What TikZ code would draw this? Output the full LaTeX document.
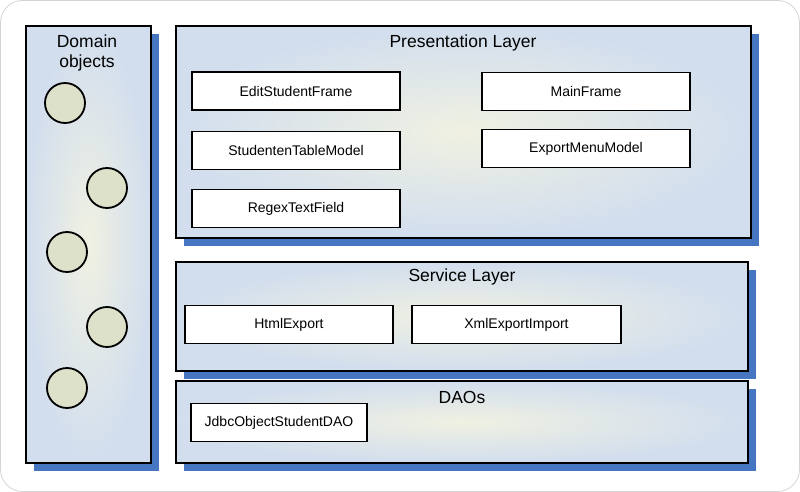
\documentclass[tikz,border=0pt]{standalone}
\usepackage{fontspec}
\setmainfont{Liberation Sans}
\usetikzlibrary{shadows}
\definecolor{shadowblue}{HTML}{4676C2}
\definecolor{panelout}{HTML}{D2DEEE}
\definecolor{panelin}{HTML}{F0F1E2}
\definecolor{objfill}{HTML}{DEE1CA}
\definecolor{frameline}{HTML}{D4D4D4}
\tikzset{
  panel/.style={draw=black, line width=1.8pt, inner color=panelin, outer color=panelout,
    anchor=north west, inner sep=0pt,
    drop shadow={shadow xshift=8pt, shadow yshift=-8pt, fill=shadowblue, opacity=1}},
  paneltitle/.style={font=\fontsize{17.5}{20}\selectfont, align=center, inner sep=0pt},
  comp/.style={draw=black, line width=1.8pt, fill=white, minimum width=208pt,
    minimum height=38pt, inner sep=0pt, font=\fontsize{14}{16}\selectfont},
  obj/.style={circle, draw=black, line width=1.8pt, fill=objfill, minimum size=40pt, inner sep=0pt}
}
\begin{document}
\begin{tikzpicture}[x=1pt,y=-1pt]
\useasboundingbox (0,0) rectangle (800,492);
\draw[frameline, line width=0.8pt, rounded corners=22pt] (0.5,0.5) rectangle (799.5,491.5);

% panels
\node[panel, minimum width=125pt, minimum height=437pt] (domain) at (25,25) {};
\node[panel, minimum width=575pt, minimum height=212pt] (pres) at (175,25) {};
\node[panel, minimum width=572pt, minimum height=109pt] (serv) at (175,261) {};
\node[panel, minimum width=572pt, minimum height=82pt] (dao) at (175,380) {};

% titles
\node[paneltitle] (domaint) at (87,53) {Domain\\objects};
\node[paneltitle] (prest) at (463,43) {Presentation Layer};
\node[paneltitle] (servt) at (462,277) {Service Layer};
\node[paneltitle] (daot) at (462,397) {DAOs};

% domain objects
\node[obj] (o1) at (65,103) {};
\node[obj] (o2) at (107,188) {};
\node[obj] (o3) at (67,252) {};
\node[obj] (o4) at (107,327) {};
\node[obj] (o5) at (67,388) {};

% presentation components
\node[comp] (esf) at (296,91) {EditStudentFrame};
\node[comp] (stm) at (296,150.5) {StudentenTableModel};
\node[comp] (rtf) at (296,208.5) {RegexTextField};
\node[comp] (mf) at (586,91.5) {MainFrame};
\node[comp] (emm) at (586,148.5) {ExportMenuModel};

% service components
\node[comp] (he) at (289,324.5) {HtmlExport};
\node[comp, minimum width=209pt] (xei) at (516.5,324.5) {XmlExportImport};

% DAO components
\node[comp, minimum width=176pt] (jdbc) at (279,422.5) {JdbcObjectStudentDAO};
\end{tikzpicture}
\end{document}
